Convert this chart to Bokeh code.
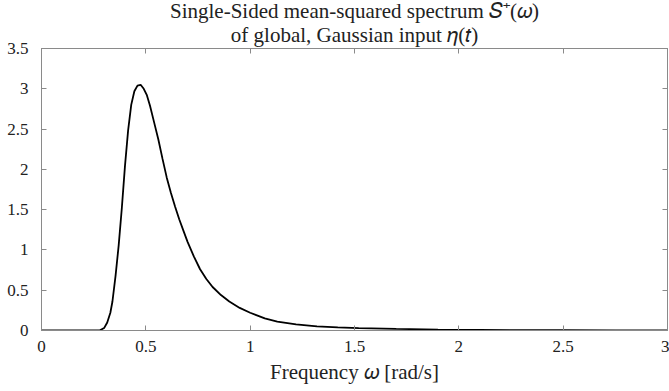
from bokeh.plotting import figure
from bokeh.models import Range1d, LinearAxis, Title, FixedTicker
from bokeh.embed import file_html
from bokeh.resources import INLINE

omega = [0.0, 0.25, 0.28, 0.30, 0.315, 0.33, 0.34, 0.355, 0.37, 0.385, 0.40, 0.415,
         0.43, 0.445, 0.46, 0.475, 0.49, 0.505, 0.52, 0.54, 0.56, 0.58, 0.60, 0.62,
         0.64, 0.66, 0.68, 0.70, 0.73, 0.76, 0.79, 0.82, 0.86, 0.90, 0.95, 1.00,
         1.07, 1.13, 1.22, 1.32, 1.42, 1.52, 1.7, 1.9, 2.1, 2.3, 2.5, 2.75, 3.0]
spectrum = [0.0, 0.0, 0.002, 0.03, 0.10, 0.22, 0.36, 0.68, 1.06, 1.52, 2.04, 2.48,
            2.80, 2.97, 3.04, 3.05, 3.00, 2.92, 2.79, 2.58, 2.37, 2.13, 1.90, 1.71,
            1.54, 1.38, 1.24, 1.10, 0.92, 0.76, 0.64, 0.54, 0.44, 0.36, 0.28, 0.22,
            0.15, 0.11, 0.075, 0.052, 0.040, 0.030, 0.019, 0.011, 0.007, 0.005, 0.003,
            0.002, 0.0015]

x_ticks = [0, 0.5, 1, 1.5, 2, 2.5, 3]
y_ticks = [0, 0.5, 1, 1.5, 2, 2.5, 3, 3.5]
title_line1 = "Single-Sided mean-squared spectrum 𝑆⁺(𝜔)"
title_line2 = "of global, Gaussian input 𝜂(𝑡)"
x_label = "Frequency 𝜔 [rad/s]"

FONT = "Liberation Serif"
AX = "#8a8a8a"
TXT = "#222222"

p = figure(width=669, height=391, output_backend="svg", toolbar_location=None,
           x_range=Range1d(0, 3), y_range=Range1d(0, 3.5),
           x_axis_type=None, y_axis_type=None,
           min_border_left=41, min_border_right=2, min_border_top=47, min_border_bottom=61)
p.grid.visible = False
p.outline_line_color = AX
p.background_fill_color = "white"
p.border_fill_color = "white"

def style(ax, labels=True):
    ax.axis_line_color = AX
    ax.major_tick_line_color = AX
    ax.minor_tick_line_color = None
    ax.major_tick_in = 5
    ax.major_tick_out = 0
    ax.major_label_text_font = FONT
    ax.major_label_text_font_style = "normal"
    ax.major_label_text_font_size = "17px"
    ax.major_label_text_color = TXT if labels else None
    ax.axis_label_text_font = FONT
    ax.axis_label_text_font_style = "normal"
    ax.axis_label_text_font_size = "21px"
    ax.axis_label_text_color = TXT

xb = LinearAxis(ticker=FixedTicker(ticks=x_ticks), axis_label=x_label)
style(xb)
xb.major_label_standoff = 10
xb.axis_label_standoff = 5
p.add_layout(xb, "below")

yl = LinearAxis(ticker=FixedTicker(ticks=y_ticks))
style(yl)
yl.major_label_standoff = 13
p.add_layout(yl, "left")

xt = LinearAxis(ticker=FixedTicker(ticks=x_ticks))
style(xt, labels=False)
xt.major_label_text_font_size = "0px"
xt.major_label_standoff = 0
p.add_layout(xt, "above")

yr = LinearAxis(ticker=FixedTicker(ticks=y_ticks))
style(yr, labels=False)
yr.major_label_text_font_size = "0px"
yr.major_label_standoff = 0
p.add_layout(yr, "right")

p.add_layout(Title(text=title_line2, align="center", text_font=FONT, text_font_size="21px",
                   text_font_style="normal", text_color=TXT, standoff=4), "above")
p.add_layout(Title(text=title_line1, align="center", text_font=FONT, text_font_size="21px",
                   text_font_style="normal", text_color=TXT, standoff=-8), "above")

p.line(omega, spectrum, line_color="black", line_width=1.8)

open("out.html", "w").write(file_html(p, INLINE))
